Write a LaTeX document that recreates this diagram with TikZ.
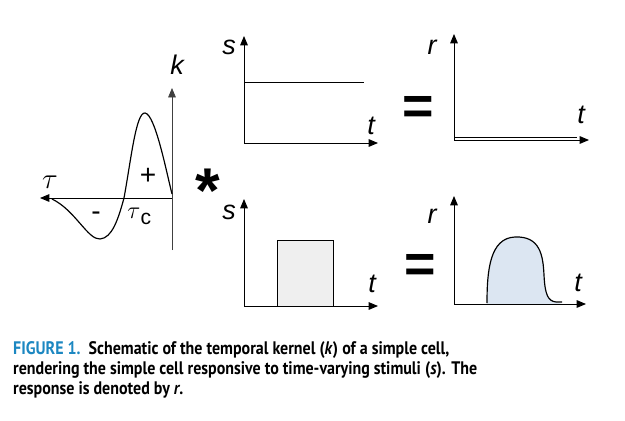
\documentclass[tikz,border=0pt]{standalone}
\usepackage{fontspec}
\usepackage{xcolor}
\usepackage{tikz}
\usetikzlibrary{arrows.meta,positioning}
\newfontfamily\axisfont{Liberation Sans}
\newfontfamily\capfont[FakeStretch=0.88]{PT Sans}
\definecolor{figblue}{HTML}{1C87C1}
\definecolor{stimgrey}{HTML}{EFEFEF}
\definecolor{respblue}{HTML}{DCE6F2}
\tikzset{
  axis/.style={-{Triangle[length=8pt,width=6.5pt]}, line width=0.8pt, draw=black},
  thinaxis/.style={-{Triangle[length=8pt,width=6.5pt]}, line width=0.6pt, draw=black!75},
  trace/.style={line width=1pt, draw=black},
  varlabel/.style={font=\axisfont\itshape\fontsize{23}{23}\selectfont, inner sep=0pt},
  signlabel/.style={font=\axisfont\fontsize{24}{24}\selectfont, inner sep=0pt},
  opsign/.style={font=\axisfont\bfseries\fontsize{46}{46}\selectfont, inner sep=0pt},
  caption/.style={font=\capfont\bfseries\fontsize{15.5}{17}\selectfont, align=left, inner sep=0pt, anchor=north west}
}
\begin{document}
\begin{tikzpicture}[x=0.03cm, y=-0.03cm]
  \useasboundingbox (0,0) rectangle (625,420);
  % temporal kernel
  \coordinate (korig) at (172,198);
  \coordinate (ktop) at (172,88);
  \coordinate (kbot) at (172,250);
  \coordinate (tauend) at (40,198);
  \draw[thinaxis] (kbot) -- (ktop);
  \draw[axis] (korig) -- (tauend);
  \draw[trace] (52,199) .. controls (75,210) and (88,240) .. (100,239)
    .. controls (112,238) and (118,220) .. (124,198)
    .. controls (131,160) and (136,112) .. (145,113)
    .. controls (155,114) and (166,170) .. (172,194);
  \node[varlabel] (klab) at (177,65) {k};
  \node[inner sep=0pt, font=\fontsize{24}{24}\selectfont] (taulab) at (50,182) {$\tau$};
  \node[inner sep=0pt, font=\fontsize{22}{22}\selectfont] (tauc) at (134,213) {$\tau$};
  \node[inner sep=0pt, font=\axisfont\fontsize{18}{18}\selectfont] (cidx) at (146,219) {c};
  \node[signlabel] (plus) at (148,176) {+};
  \node[signlabel] (minus) at (96,216) {-};
  \node[opsign, font=\axisfont\bfseries\fontsize{54}{54}\selectfont] (conv) at (208,191) {*};
  % constant stimulus
  \coordinate (s1orig) at (244,143);
  \coordinate (s1top) at (244,36);
  \coordinate (s1end) at (378,143);
  \draw[axis] (s1orig) -- (s1top);
  \draw[axis] (s1orig) -- (s1end);
  \draw[trace, line width=0.8pt] (244,82) -- (364,82);
  \node[varlabel] (s1lab) at (229,47) {s};
  \node[varlabel] (t1lab) at (371,126) {t};
  \node[opsign] (eq1) at (418,110) {=};
  % zero response
  \coordinate (r1orig) at (454,140);
  \coordinate (r1top) at (454,34);
  \coordinate (r1end) at (589,140);
  \draw[axis] (r1orig) -- (r1top);
  \draw[axis] (r1orig) -- (r1end);
  \draw[trace, line width=0.8pt] (454,137.5) -- (577,137.5);
  \node[varlabel] (r1lab) at (432,47) {r};
  \node[varlabel] (t2lab) at (581,115) {t};
  % pulse stimulus
  \coordinate (s2orig) at (244,306);
  \coordinate (s2top) at (244,199);
  \coordinate (s2end) at (378,306);
  \draw[axis] (s2orig) -- (s2top);
  \draw[axis] (s2orig) -- (s2end);
  \draw[trace, line width=0.8pt, fill=stimgrey] (277,306) rectangle (333,240);
  \node[varlabel] (s2lab) at (229,212) {s};
  \node[varlabel] (t3lab) at (372,284) {t};
  \node[opsign] (eq2) at (420,268) {=};
  % pulse response
  \coordinate (r2orig) at (454,304);
  \coordinate (r2top) at (454,196);
  \coordinate (r2end) at (586,304);
  \fill[respblue] (487,304) .. controls (487,270) and (490,238) .. (515,237)
    .. controls (540,236) and (543,255) .. (544,275)
    .. controls (545,295) and (548,301) .. (556,302) -- (562,304) -- cycle;
  \draw[axis] (r2orig) -- (r2top);
  \draw[axis] (r2orig) -- (r2end);
  \draw[trace] (487,303) .. controls (487,270) and (490,238) .. (515,237)
    .. controls (540,236) and (543,255) .. (544,275)
    .. controls (545,295) and (548,301) .. (556,302) -- (562,302);
  \node[varlabel] (r2lab) at (432,216) {r};
  \node[varlabel] (t4lab) at (578,283) {t};
  % caption
  \node[caption] (cap) at (13,341) {{\color{figblue}FIGURE 1.}\ \ Schematic of the temporal kernel (\textit{k}) of a simple cell,\\
    rendering the simple cell responsive to time-varying stimuli (\textit{s}). The\\
    response is denoted by \textit{r}.};
\end{tikzpicture}
\end{document}
